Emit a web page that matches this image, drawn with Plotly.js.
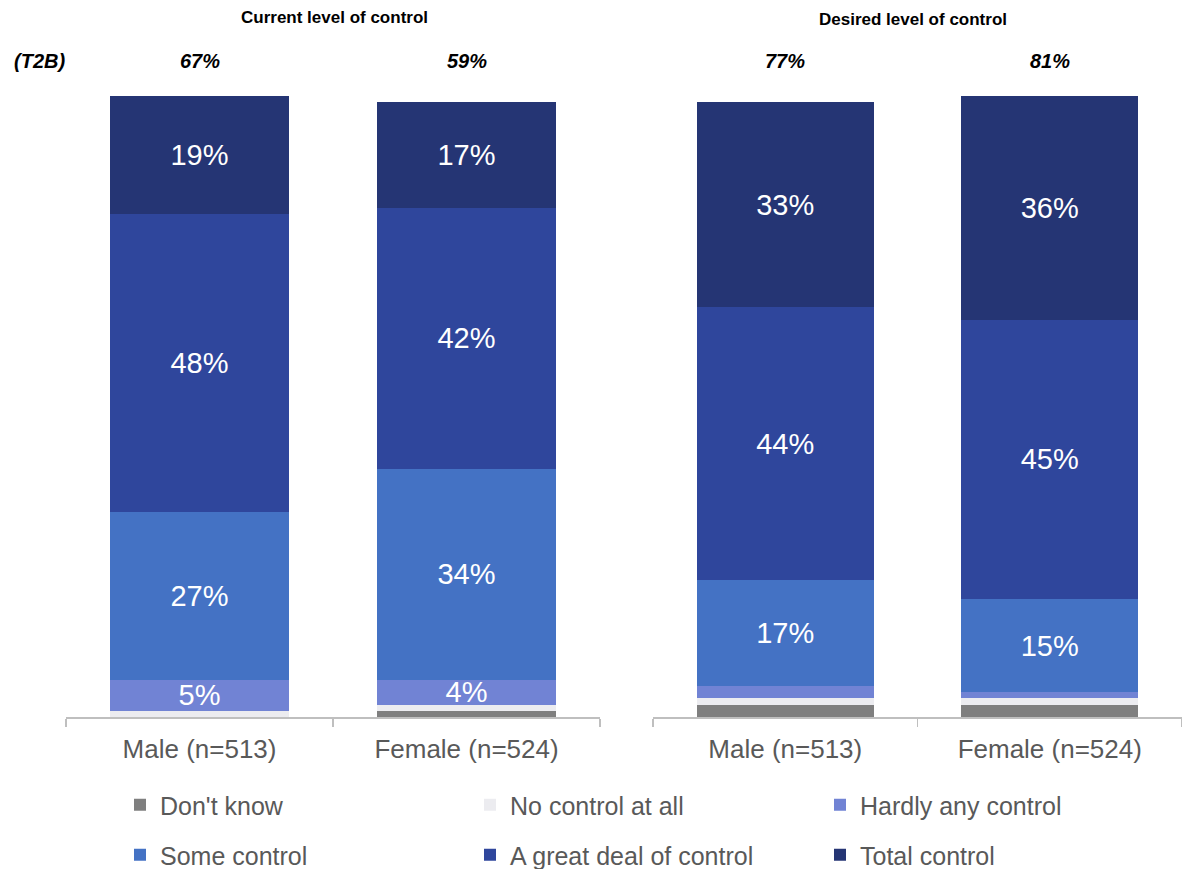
<!DOCTYPE html>
<html>
<head>
<meta charset="utf-8">
<script src="https://cdn.plot.ly/plotly-3.0.1.min.js"></script>
<style>
  html, body { margin: 0; padding: 0; background: #fff; }
  #chart { width: 1182px; height: 869px; }
</style>
</head>
<body>
<div id="chart"></div>
<script>
// Survey answers: how much control respondents have / would like (% of respondents)
const categories = ["Male (n=513)", "Female (n=524)"];
const panelTitles = ["Current level of control", "Desired level of control"];

const seriesNames = ["Don't know", "No control at all", "Hardly any control",
                     "Some control", "A great deal of control", "Total control"];
const seriesColors = ["#7f7f7f", "#ececf0", "#7183d4", "#4472c4", "#2f469c", "#253574"];

// Current level of control
const currentDontKnow  = [0, 1];
const currentNoControl = [1, 1];
const currentHardly    = [5, 4];
const currentSome      = [27, 34];
const currentGreatDeal = [48, 42];
const currentTotal     = [19, 17];

// Desired level of control
const desiredDontKnow  = [2, 2];
const desiredNoControl = [1, 1];
const desiredHardly    = [2, 1];
const desiredSome      = [17, 15];
const desiredGreatDeal = [44, 45];
const desiredTotal     = [33, 36];

const panels = [
  [currentDontKnow, currentNoControl, currentHardly, currentSome, currentGreatDeal, currentTotal],
  [desiredDontKnow, desiredNoControl, desiredHardly, desiredSome, desiredGreatDeal, desiredTotal]
];

// Page geometry helpers (pixels -> paper fractions)
const W = 1182, H = 869, M = { l: 0, r: 0, t: 96, b: 152, autoexpand: false };
const plotH = H - M.t - M.b;
const px = x => x / W;
const py = y => (H - M.b - y) / plotH;

const FONT = "Liberation Sans, Arial, Helvetica, sans-serif";
const GREY_TEXT = "#595959";

const traces = [];
panels.forEach((panel, p) => {
  panel.forEach((vals, s) => {
    traces.push({
      type: "bar",
      name: seriesNames[s],
      x: categories,
      y: vals,
      xaxis: p === 0 ? "x" : "x2",
      yaxis: "y",
      marker: { color: seriesColors[s] },
      text: vals.map(v => (v >= 4 ? v + "%" : "")),
      textposition: "inside",
      insidetextanchor: "middle",
      textangle: 0,
      constraintext: "none",
      insidetextfont: { family: FONT, size: 29, color: "#ffffff" },
      hoverinfo: "name+y",
      legendgroup: seriesNames[s],
      legend: s < 3 ? "legend" : "legend2",
      showlegend: p === 0
    });
  });
});

// Top-2-box totals shown above each bar
const annotations = [];
panels.forEach((panel, p) => {
  categories.forEach((c, i) => {
    const t2b = panel[4][i] + panel[5][i];
    annotations.push({
      xref: p === 0 ? "x" : "x2", yref: "paper",
      x: c, y: py(61), xanchor: "center", yanchor: "middle", showarrow: false,
      text: "<b><i>" + t2b + "%</i></b>",
      font: { family: FONT, size: 20, color: "#000" }
    });
  });
});
annotations.push({
  xref: "paper", yref: "paper", x: px(39), y: py(61), xanchor: "center", yanchor: "middle",
  showarrow: false, text: "<b><i>(T2B)</i></b>",
  font: { family: FONT, size: 20, color: "#000" }
});
[[334, 17], [913, 20]].forEach(([x, y], i) => {
  annotations.push({
    xref: "paper", yref: "paper", x: px(x), y: py(y), xanchor: "center", yanchor: "middle",
    showarrow: false, text: "<b>" + panelTitles[i] + "</b>",
    font: { family: FONT, size: 17, color: "#000" }
  });
});

const xAxisBase = {
  type: "category",
  range: [-0.5, 1.5],
  showline: true, linecolor: "#bfbfbf", linewidth: 1.5,
  ticks: "outside", tickson: "boundaries", ticklen: 8, tickcolor: "#bfbfbf", tickwidth: 1.5,
  ticklabelstandoff: 8,
  showgrid: false, zeroline: false,
  tickfont: { family: FONT, size: 26, color: GREY_TEXT },
  fixedrange: true
};

const legendBase = {
  orientation: "h",
  xref: "paper", yref: "paper",
  xanchor: "left", yanchor: "middle",
  x: px(120),
  entrywidth: 305, entrywidthmode: "pixels",
  traceorder: "normal",
  font: { family: FONT, size: 25, color: GREY_TEXT },
  bgcolor: "rgba(0,0,0,0)"
};

const layout = {
  width: W, height: H,
  margin: M,
  paper_bgcolor: "#ffffff",
  plot_bgcolor: "#ffffff",
  barmode: "stack",
  bargap: 0.33,
  showlegend: true,
  xaxis: Object.assign({}, xAxisBase, { domain: [px(66), px(600)], anchor: "y" }),
  xaxis2: Object.assign({}, xAxisBase, { domain: [px(653), 1], anchor: "y" }),
  yaxis: { range: [0, 100], visible: false, fixedrange: true },
  legend: Object.assign({}, legendBase, { y: py(805) }),
  legend2: Object.assign({}, legendBase, { y: py(855) }),
  annotations: annotations,
  font: { family: FONT }
};

Plotly.newPlot("chart", traces, layout, { displayModeBar: false, staticPlot: true });
</script>
</body>
</html>
